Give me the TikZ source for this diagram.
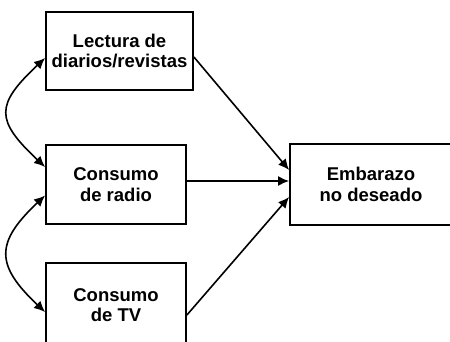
\documentclass[tikz,border=0pt]{standalone}
\usepackage{fontspec}
\setmainfont{Liberation Sans}
\usetikzlibrary{arrows.meta,calc}
\begin{document}
\begin{tikzpicture}[x=1pt,y=-1pt,
  box/.style={draw,line width=1.8pt,inner sep=0pt,align=center,
    font=\fontsize{18.5}{20.5}\selectfont\bfseries},
  arr/.style={line width=1.6pt,-{Latex[length=11pt,width=10pt]}},
  dbl/.style={line width=1.6pt,{Latex[length=11pt,width=10pt]}-{Latex[length=11pt,width=10pt]}}]
\useasboundingbox (0,0) rectangle (450,341);
\node[box,minimum width=147pt,minimum height=78pt] (b1) at (119.5,51) {Lectura de\\diarios/revistas};
\node[box,minimum width=140pt,minimum height=79pt] (b2) at (116,184.5) {Consumo\\de radio};
\node[box,minimum width=140pt,minimum height=84pt] (b3) at (116,305) {Consumo\\de TV};
\node[box,minimum width=162pt,minimum height=81pt] (b4) at (371,184.5) {Embarazo\\no deseado};
\draw[arr] ([yshift=-6pt]b1.east) -- ([yshift=14.5pt]b4.west);
\draw[arr] ([yshift=3.5pt]b2.east) -- ([yshift=3.5pt]b4.west);
\draw[arr] ([yshift=-10pt]b3.east) -- ([yshift=-12.5pt]b4.west);
\coordinate (c1) at ([yshift=-7pt]b1.west);
\coordinate (c2) at ([yshift=17.5pt]b2.west);
\coordinate (c3) at ([yshift=-11pt]b2.west);
\coordinate (c4) at ([yshift=-7pt]b3.west);
\draw[dbl] (c1) .. controls ($(c1)+(-50,47)$) and ($(c2)+(-50,-47)$) .. (c2);
\draw[dbl] (c3) .. controls ($(c3)+(-50,47)$) and ($(c4)+(-50,-47)$) .. (c4);
\end{tikzpicture}
\end{document}
